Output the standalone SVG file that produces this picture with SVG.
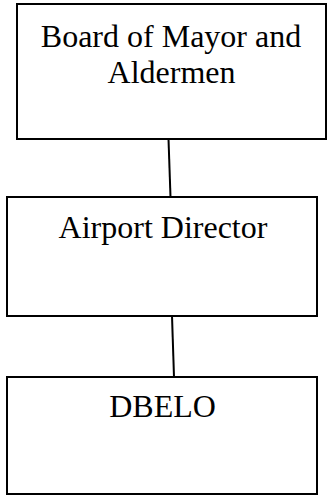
<svg xmlns="http://www.w3.org/2000/svg" width="329" height="497" viewBox="0 0 329 497">
<style>
.box{fill:#fff;stroke:#000;stroke-width:2}
.lbl{font-family:'Liberation Serif','Times New Roman',Times,serif;font-size:32px;fill:#000;text-anchor:middle}
.conn{stroke:#000;stroke-width:2;fill:none}
</style>
<rect width="329" height="497" fill="#fff"/>
<g id="connectors">
<line class="conn" x1="168.5" y1="139" x2="170.5" y2="197"/>
<line class="conn" x1="172" y1="316" x2="174" y2="377"/>
</g>
<g id="board">
<rect class="box" x="17" y="4" width="309" height="135"/>
<text class="lbl" font-family="Liberation Serif, serif" x="171" y="47">Board of Mayor and</text>
<text class="lbl" font-family="Liberation Serif, serif" x="171.5" y="83">Aldermen</text>
</g>
<g id="director">
<rect class="box" x="7" y="197" width="310" height="119"/>
<text class="lbl" font-family="Liberation Serif, serif" x="163" y="238">Airport Director</text>
</g>
<g id="dbelo">
<rect class="box" x="7" y="377" width="310" height="117"/>
<text class="lbl" font-family="Liberation Serif, serif" x="162.5" y="417">DBELO</text>
</g>
</svg>
